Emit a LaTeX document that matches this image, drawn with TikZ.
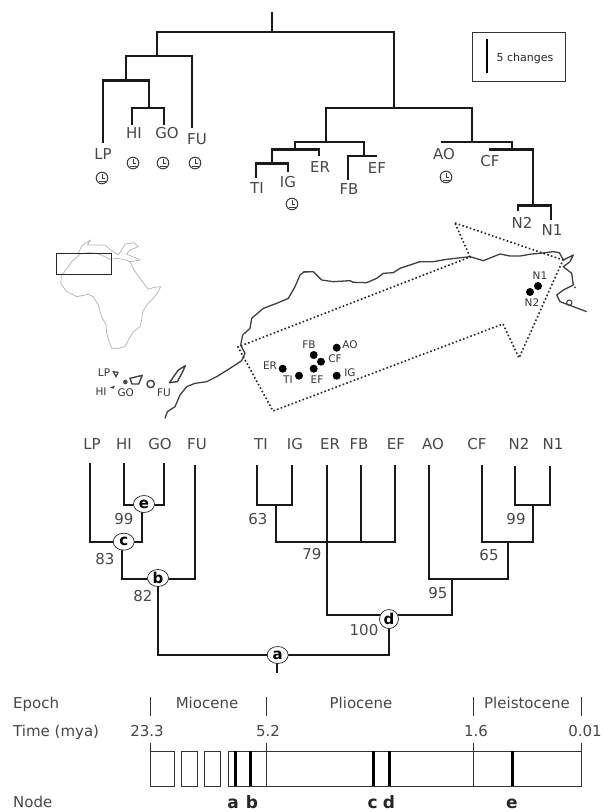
\documentclass[tikz,border=0pt]{standalone}
\usepackage{fontspec}
\setmainfont{DejaVu Sans}
\usetikzlibrary{shapes.geometric}
\tikzset{
  br/.style={line width=2.2pt,black!90,line join=miter,line cap=butt},
  lab/.style={inner sep=0pt,text height=11pt,text depth=0pt,text=black!72,font=\fontsize{15}{17}\selectfont},
  num/.style={inner sep=0pt,text height=11pt,text depth=0pt,text=black!72,font=\fontsize{15}{17}\selectfont},
  maplab/.style={inner sep=0pt,text height=7.7pt,text depth=0pt,text=black!80,font=\fontsize{10.5}{12}\selectfont},
  site/.style={circle,fill=black,inner sep=0pt,minimum size=8pt},
  knot/.style={ellipse,draw=black!85,fill=white,line width=.7pt,inner sep=0pt,minimum width=21pt,minimum height=17pt,font=\bfseries\fontsize{15}{17}\selectfont},
  nodelet/.style={inner sep=0pt,text height=12.4pt,text depth=0pt,font=\bfseries\fontsize{17}{19}\selectfont,text=black!85},
  tl/.style={line width=.9pt,black!80},
  thickbar/.style={line width=3pt,black},
  clockmark/.pic={
    \draw[line width=1pt,black!75] (0,0) circle (5.8);
    \draw[line width=.8pt,black!75] (0,-3.8) -- (0,0.6) -- (3.2,0.6);
    \draw[line width=1.2pt,black!75] (-3.5,3.8) -- (3.5,3.8);
  }
}
\begin{document}
\begin{tikzpicture}[x=1pt,y=-1pt]
\useasboundingbox (0,0) rectangle (604,812);
% ---------- top tree
\coordinate (root) at (272,32);
\coordinate (rootstem) at (272,12);
\coordinate (A) at (157,56);
\coordinate (B) at (394,108);
\coordinate (A1) at (126,80.5);
\coordinate (A2) at (149,108);
\coordinate (tLP) at (103,143);
\coordinate (tHI) at (132,125);
\coordinate (tGO) at (164,125);
\coordinate (tFU) at (192,128);
\coordinate (B1) at (326,142);
\coordinate (B2) at (472,142);
\coordinate (B3) at (295,149.5);
\coordinate (B4) at (364,156);
\coordinate (B5) at (272,163.5);
\coordinate (tER) at (319,156);
\coordinate (tTI) at (256,178);
\coordinate (tIG) at (288,172);
\coordinate (tFB) at (348,180);
\coordinate (tEF) at (377,156);
\coordinate (tAO) at (441,142);
\coordinate (B6) at (512,149.5);
\coordinate (tCF) at (489,149.5);
\coordinate (B7) at (533,205.5);
\coordinate (tN2) at (518,211);
\coordinate (tN1) at (551,220);
\draw[br] (rootstem) -- (root);
\draw[br] (A) |- (root) -| (B);
\draw[br] (A1) |- (A) -| (tFU);
\draw[br] (tLP) |- (A1) -| (A2);
\draw[br] (tHI) |- (A2) -| (tGO);
\draw[br] (B1) |- (B) -| (B2);
\draw[br] (B3) |- (B1) -| (B4);
\draw[br] (B5) |- (B3) -| (tER);
\draw[br] (tTI) |- (B5) -| (tIG);
\draw[br] (tFB) |- (B4) -- (tEF);
\draw[br] (tAO) -- (B2) -| (B6);
\draw[br] (tCF) -- (B6) -| (B7);
\draw[br] (tN2) |- (B7) -| (tN1);
\node[lab] (lLP) at (103,154) {LP};
\node[lab] (lHI) at (134,133) {HI};
\node[lab] (lGO) at (167,133) {GO};
\node[lab] (lFU) at (197,139) {FU};
\node[lab] (lTI) at (257,188) {TI};
\node[lab] (lIG) at (288,182) {IG};
\node[lab] (lER) at (320,167) {ER};
\node[lab] (lFB) at (349,189) {FB};
\node[lab] (lEF) at (377,168) {EF};
\node[lab] (lAO) at (444,154) {AO};
\node[lab] (lCF) at (490,161) {CF};
\node[lab] (lN2) at (522,223) {N2};
\node[lab] (lN1) at (552,230) {N1};
\pic at (102,178) {clockmark};
\pic at (133,163) {clockmark};
\pic at (163,163) {clockmark};
\pic at (195,163) {clockmark};
\pic at (292,204) {clockmark};
\pic at (446,177) {clockmark};
% scale box
\node[draw=black!80,line width=.8pt,minimum width=93pt,minimum height=49pt,inner sep=0pt] (scalebox) at (518.5,56.5) {};
\coordinate (sa) at (487,39);
\coordinate (sb) at (487,73);
\draw[line width=2.2pt] (sa) -- (sb);
\node[inner sep=0pt,font=\fontsize{11}{12}\selectfont,text=black!85] (scalelab) at (525,58) {5 changes};
% ---------- Africa inset
\begin{scope}[shift={(30,230)},x=.33333pt,y=-.33333pt]
\draw[black!30,line width=.7pt,line join=round]
 (100,130)--(125,95)--(150,72)--(175,68)--(200,70)--(225,80)--(240,88)--(265,85)--(285,90)--(300,95)--(312,120)--(330,145)--(355,178)--(372,172)--(392,170)--(385,185)--(370,205)--(350,225)--(338,245)--(335,270)--(330,290)--(310,305)--(298,325)--(285,350)--(265,355)--(245,355)--(238,335)--(230,310)--(228,285)--(215,260)--(205,225)--(190,200)--(175,193)--(140,200)--(110,185)--(92,160)--(95,135)--cycle;
\draw[black!30,line width=.7pt,line join=round]
 (145,70)--(155,48)--(165,40)--(182,30)--(172,45)--(195,45)--(225,45)--(245,62)--(265,75)--(275,60)--(285,42)--(312,38)--(325,50)--(300,60)--(290,72)--(330,90)--(300,95);
\draw[black!85,line width=1pt] (80,70) rectangle (244,133);
% islands
\draw[black!75,line width=1.2pt] (250,425) -- (264,427) -- (258,440) -- cycle;
\fill[black!80] (240,472) -- (255,467) -- (250,476) -- cycle;
\fill[black!70] (286,456) circle (7);
\draw[black!75,line width=1.4pt,line join=round] (300,445) -- (337,436) -- (326,462) -- (306,462) -- cycle;
\draw[black!75,line width=1.4pt] (362,462) circle (11);
\draw[black!75,line width=1.4pt,line join=round] (418,458) -- (445,420) -- (466,407) -- (458,425) -- (442,455) -- cycle;
\end{scope}
\node[maplab] (mLP) at (104,372.7) {LP};
\node[maplab] (mHI) at (101,392) {HI};
\node[maplab] (mGO) at (125.7,393) {GO};
\node[maplab] (mFU) at (164,393) {FU};
% ---------- coast and arrow
\begin{scope}[shift={(30,230)},x=.33333pt,y=-.33333pt]
\draw[black!75,line width=1.3pt,line join=round]
 (405,565)--(412,545)--(435,530)--(450,495)--(470,470)--(495,460)--(530,455)--(560,440)--(600,415)--(635,392)--(645,370)--(632,345)--(638,315)--(660,295)--(665,265)--(700,235)--(740,220)--(775,205)--(795,170)--(810,135)--(822,126)--(840,125);
\end{scope}
\begin{scope}[shift={(220,230)},x=.33333pt,y=-.33333pt]
\draw[black!75,line width=1.3pt,line join=round]
 (250,125)--(280,125)--(305,150)--(340,155)--(390,152)--(400,157)--(440,158)--(470,145)--(490,130)--(520,128)--(540,115)--(600,95)--(640,95)--(680,88)--(750,80)--(790,92)--(815,82)--(840,72)--(870,78)--(900,78)--(935,72)--(960,70)--(1000,65)--(1018,68)--(1030,90)--(1060,75)--(1050,95)--(1030,110)--(1055,130)--(1060,165)--(1030,180)--(1010,195)--(1020,215)--(1060,230)--(1100,245);
\fill[black!75] (1065,172) circle (3);
\draw[black!75,line width=1pt] (1048,218) circle (8);
\end{scope}
\coordinate (h1) at (455,223);
\coordinate (h2) at (563,260);
\coordinate (h3) at (519,358);
\coordinate (h4) at (503,324);
\coordinate (h5) at (273,411);
\coordinate (h6) at (238,347);
\coordinate (h7) at (470,257);
\draw[line width=1.6pt,black!85,dash pattern=on 1.6pt off 2.3pt] (h1)--(h2)--(h3)--(h4)--(h5)--(h6)--(h7)--cycle;
\node[site] (sER) at (282.7,368.7) {};
\node[site] (sTI) at (299,375.7) {};
\node[site] (sEF) at (313.7,368.7) {};
\node[site] (sCF) at (321,361.7) {};
\node[site] (sFB) at (313.7,355) {};
\node[site] (sAO) at (336.7,347.7) {};
\node[site] (sIG) at (336.7,375.7) {};
\node[site] (sN1) at (538,286) {};
\node[site] (sN2) at (530,292) {};
\node[maplab] (mER) at (270,365.7) {ER};
\node[maplab] (mTI) at (288,380) {TI};
\node[maplab] (mEF) at (317,380) {EF};
\node[maplab] (mCF) at (335,359) {CF};
\node[maplab] (mFB) at (309,345) {FB};
\node[maplab] (mAO) at (350,345) {AO};
\node[maplab] (mIG) at (350,372.7) {IG};
\node[maplab] (mN1) at (540,275.7) {N1};
\node[maplab] (mN2) at (532,303) {N2};
% ---------- bottom tree
\foreach \n/\x in {LP/92,HI/124,GO/160,FU/197,TI/261,IG/295,ER/330,FB/359,EF/396,AO/433,CF/477,N2/519,N1/553}{
  \node[lab] (b\n) at (\x,443.5) {\n};
}
\coordinate (uLP) at (90,463);
\coordinate (uHI) at (124,463);
\coordinate (uGO) at (164,463);
\coordinate (uFU) at (195,465);
\coordinate (uTI) at (257,465);
\coordinate (uIG) at (292,465);
\coordinate (uER) at (327,465);
\coordinate (uFB) at (361,465);
\coordinate (uEF) at (395,465);
\coordinate (uAO) at (429,465);
\coordinate (uCF) at (482,465);
\coordinate (uN2) at (515,466);
\coordinate (uN1) at (550,466);
\coordinate (je) at (142,505);
\coordinate (jc) at (122,542);
\coordinate (jb) at (158,579);
\coordinate (ja) at (277,655);
\coordinate (jstem) at (277,673);
\coordinate (jd) at (389,655);
\coordinate (jd2) at (389,615);
\coordinate (jx) at (276,505);
\coordinate (jy) at (327,542);
\coordinate (jz) at (452,579);
\coordinate (jw) at (508,542);
\coordinate (jv) at (533,505);
\coordinate (ja2) at (158,655);
\coordinate (jc2) at (142,542);
\draw[br] (uHI) |- (je) -| (uGO);
\draw[br] (uLP) |- (jc2) -- (je);
\draw[br] (jc) |- (jb) -| (uFU);
\draw[br] (jb) -- (ja2) -- (jd) -- (jd2);
\draw[br] (ja) -- (jstem);
\draw[br] (uTI) |- (jx) -| (uIG);
\draw[br] (jx) |- (jy);
\draw[br] (uER) |- (jd2) -| (jz);
\draw[br] (uFB) -- (uFB |- jy);
\draw[br] (jy) -| (uEF);
\draw[br] (uAO) |- (jz) -| (jw);
\draw[br] (uCF) |- (jw) -| (jv);
\draw[br] (uN2) |- (jv) -| (uN1);
\node[knot] (ne) at (144,504) {e};
\node[knot] (nc) at (123.7,541.7) {c};
\node[knot] (nb) at (158,578) {b};
\node[knot] (na) at (277.7,655) {a};
\node[knot,minimum width=19pt,minimum height=19pt] (nd) at (389,619) {d};
\node[num] (n99a) at (124,519) {99};
\node[num] (n83) at (105,559) {83};
\node[num] (n82) at (143,596) {82};
\node[num] (n63) at (258,519) {63};
\node[num] (n79) at (312,554) {79};
\node[num] (n99b) at (516,519) {99};
\node[num] (n65) at (489,555) {65};
\node[num] (n95) at (438,593) {95};
\node[num] (n100) at (364,630) {100};
% ---------- timeline
\node[lab,anchor=west] (tE) at (13,703) {Epoch};
\node[lab,anchor=west] (tT) at (13,731) {Time (mya)};
\node[lab,anchor=west] (tN) at (13,802) {Node};
\node[lab] (eM) at (207,703) {Miocene};
\node[lab] (eP) at (361,703) {Pliocene};
\node[lab] (eL) at (527,703) {Pleistocene};
\node[lab] (y1) at (147,731) {23.3};
\node[lab] (y2) at (268,731) {5.2};
\node[lab] (y3) at (476,731) {1.6};
\node[lab] (y4) at (585,731) {0.01};
\foreach \x in {150.7,266,473.7,581}{
  \draw[tl] (\x,697) -- (\x,716);
  \draw[tl] (\x,743) -- (\x,751);
}
\draw[tl] (150.7,751) rectangle (174,786);
\draw[tl] (181,751) rectangle (197,786);
\draw[tl] (204,751) rectangle (220,786);
\draw[tl] (228,751) rectangle (581,786);
\draw[tl] (266,751) -- (266,786);
\draw[tl] (473.7,751) -- (473.7,786);
\foreach \x in {235,250.7,373.7,389,512}{
  \draw[thickbar] (\x,751) -- (\x,786);
}
\node[nodelet] (la) at (233,802) {a};
\node[nodelet] (lb) at (252,802) {b};
\node[nodelet] (lc) at (372.7,802) {c};
\node[nodelet] (ld) at (389,802) {d};
\node[nodelet] (le) at (512,802) {e};
\end{tikzpicture}
\end{document}
